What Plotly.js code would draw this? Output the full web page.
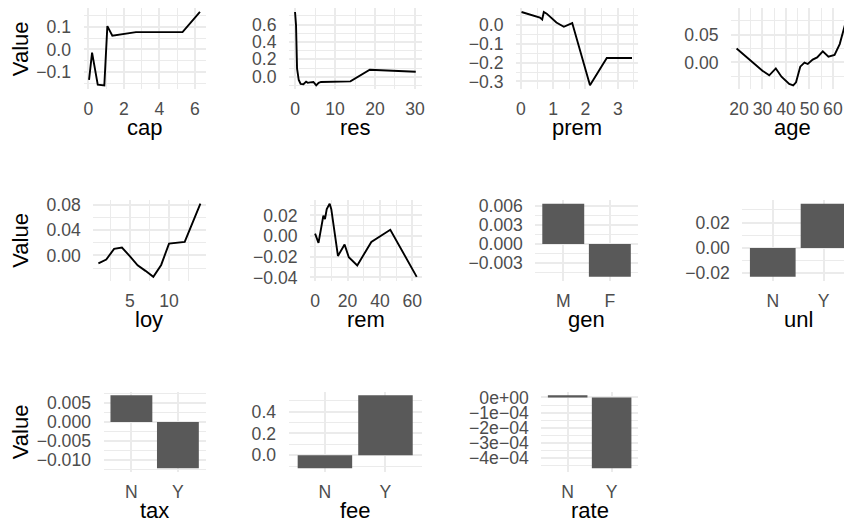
<!DOCTYPE html>
<html><head><meta charset="utf-8">
<script src="https://cdn.plot.ly/plotly-3.0.1.min.js"></script>
<style>
html,body{margin:0;padding:0;background:#fff;overflow:hidden}
#wrap{width:844px;height:526px;overflow:hidden;position:relative}
#chart{width:860px;height:526px}
</style></head>
<body><div id="wrap"><div id="chart"></div></div>
<script>
// ---- data ----
const capX = [0.04, 0.21, 0.53, 0.9, 1.07, 1.35, 2.68, 5.3, 6.28];
const capY = [-0.133, -0.014, -0.154, -0.157, 0.102, 0.06, 0.076, 0.076, 0.164];
const resX = [0, 0.25, 0.5, 0.93, 1.4, 2.1, 2.77, 3.2, 3.78, 4.6, 5.3, 5.9, 6.5, 13.85, 18.7, 30.2];
const resY = [0.744, 0.59, 0.096, -0.038, -0.083, -0.087, -0.057, -0.07, -0.065, -0.06, -0.099, -0.07, -0.06, -0.053, 0.08, 0.057];
const premX = [0.02, 0.59, 0.66, 0.71, 0.8, 0.93, 1.1, 1.33, 1.45, 1.59, 2.14, 2.66, 3.44];
const premY = [0.07, 0.04, 0.03, 0.07, 0.061, 0.04, 0.014, -0.009, 0.002, 0.011, -0.321, -0.175, -0.175];
const ageX = [19, 25, 30, 32.9, 35.7, 38.1, 41.4, 43.1, 44.3, 46.1, 47.9, 49.3, 51.4, 53.3, 55.7, 58.1, 60.7, 62.9, 65, 66.6];
const ageY = [0.025, 0.003, -0.015, -0.0235, -0.011, -0.026, -0.039, -0.0415, -0.036, -0.0078, -0.0005, -0.003, 0.005, 0.009, 0.0199, 0.0103, 0.0133, 0.033, 0.066, 0.091];
const loyX = [1, 2, 3, 4, 5, 6, 7, 8, 9, 10, 12, 14];
const loyY = [-0.0125, -0.0065, 0.0105, 0.0125, -0.001, -0.0156, -0.0245, -0.034, -0.0151, 0.0188, 0.0215, 0.0823];
const remX = [0, 2.1, 5.1, 6.1, 7.2, 9, 10, 11.6, 14.1, 18.2, 20.8, 26, 34.7, 46.4, 62.7];
const remY = [0.0023, -0.0066, 0.0196, 0.0165, 0.026, 0.0313, 0.026, 0.0085, -0.0192, -0.0082, -0.0205, -0.0284, -0.0057, 0.0061, -0.0394];
const genCats = ["M", "F"];
const genVals = [0.0064, -0.0052];
const ynCats = ["N", "Y"];
const unlVals = [-0.0228, 0.0349];
const taxVals = [0.0071, -0.0123];
const feeVals = [-0.12, 0.55];
const rateVals = [0.000015, -0.000468];
const rateTicks = [0, -0.0001, -0.0002, -0.0003, -0.0004];
const rateTickText = ["0e+00", "\u22121e\u221204", "\u22122e\u221204", "\u22123e\u221204", "\u22124e\u221204"];
const yTitle = "Value";

// ---- layout ----
const W = 860, H = 526;
const FONT = '"Liberation Sans", Arial, Helvetica, sans-serif';
const GRID = '#EBEBEB';
const R1 = [8.3, 89], R2 = [200, 280.5], R3 = [391.5, 472];

const panels = [
  {name:'cap',  kind:'line', x:capX,  y:capY,  bx:[83.5,205.5], by:R1, xd:2,  yd:0.1,   yf:'.1f', ylab:true},
  {name:'res',  kind:'line', x:resX,  y:resY,  bx:[289,421.8],  by:R1, xd:10, yd:0.2,   yf:'.1f'},
  {name:'prem', kind:'line', x:premX, y:premY, bx:[516,637.5],  by:R1, xd:1,  yd:0.1,   yf:'.1f'},
  {name:'age',  kind:'line', x:ageX,  y:ageY,  bx:[731,854],    by:R1, xd:10, yd:0.05,  yf:'.2f'},
  {name:'loy',  kind:'line', x:loyX,  y:loyY,  bx:[93.3,205.5], by:R2, xd:5,  yd:0.04,  yf:'.2f', ylab:true},
  {name:'rem',  kind:'line', x:remX,  y:remY,  bx:[310,421.8],  by:R2, xd:20, yd:0.02,  yf:'.2f'},
  {name:'gen',  kind:'bar',  x:genCats, y:genVals, bx:[535.3,637.8], by:R2, yd:0.003, yf:'.3f'},
  {name:'unl',  kind:'bar',  x:ynCats,  y:unlVals, bx:[742.3,854],   by:R2, yd:0.02,  yf:'.2f'},
  {name:'tax',  kind:'bar',  x:ynCats,  y:taxVals, bx:[103.5,205.8], by:R3, yd:0.005, yf:'.3f', ylab:true},
  {name:'fee',  kind:'bar',  x:ynCats,  y:feeVals, bx:[288.6,421.8], by:R3, yd:0.2,   yf:'.1f'},
  {name:'rate', kind:'bar',  x:ynCats,  y:rateVals, bx:[541.3,638],  by:R3, yd:0.0001, tv:rateTicks, tt:rateTickText}
];

function expand(lo, hi){ const d = hi - lo; return [lo - 0.05*d, hi + 0.05*d]; }
const tickFont = {family: FONT, size: 17.6, color: '#4D4D4D'};
const titleFont = {family: FONT, size: 22, color: '#000000'};

const data = [], annotations = [];
const layout = {
  width: W, height: H, margin: {l:0, r:0, t:0, b:0},
  paper_bgcolor: '#ffffff', plot_bgcolor: '#ffffff',
  showlegend: false, font: {family: FONT}
};

panels.forEach((p, i) => {
  const n = i + 1;
  const xs = n === 1 ? 'x' : 'x' + n, ys = n === 1 ? 'y' : 'y' + n;
  const xk = n === 1 ? 'xaxis' : 'xaxis' + n, yk = n === 1 ? 'yaxis' : 'yaxis' + n;
  const xdom = [p.bx[0]/W, p.bx[1]/W];
  const ydom = [1 - p.by[1]/H, 1 - p.by[0]/H];
  if (p.kind === 'line') {
    data.push({type:'scatter', mode:'lines', x:p.x, y:p.y, xaxis:xs, yaxis:ys,
      line:{color:'#000000', width:1.9}, hoverinfo:'skip'});
  } else {
    data.push({type:'bar', x:p.x, y:p.y, xaxis:xs, yaxis:ys, width:0.9,
      marker:{color:'#595959', line:{width:0}}, hoverinfo:'skip'});
  }
  const xa = {domain:xdom, anchor:ys, showline:false, zeroline:false,
    showgrid:true, gridcolor:GRID, gridwidth:2,
    ticks:'outside', ticklen:4, tickcolor:'rgba(0,0,0,0)', tickfont:tickFont, fixedrange:true};
  if (p.kind === 'line') {
    xa.type = 'linear';
    xa.range = expand(Math.min(...p.x), Math.max(...p.x));
    xa.tickmode = 'linear'; xa.tick0 = 0; xa.dtick = p.xd;
    xa.minor = {tickmode:'linear', tick0:0, dtick:p.xd/2, showgrid:true, gridcolor:GRID, gridwidth:1, ticks:''};
  } else {
    xa.type = 'category';
    xa.range = [-0.6, 1.6];
  }
  const ylo = p.kind === 'bar' ? Math.min(0, ...p.y) : Math.min(...p.y);
  const yhi = p.kind === 'bar' ? Math.max(0, ...p.y) : Math.max(...p.y);
  const ya = {domain:ydom, anchor:xs, type:'linear', range:expand(ylo, yhi),
    showline:false, zeroline:false, showgrid:true, gridcolor:GRID, gridwidth:2,
    ticks:'outside', ticklen:8, tickcolor:'rgba(0,0,0,0)', tickfont:tickFont, fixedrange:true,
    minor:{tickmode:'linear', tick0:0, dtick:p.yd/2, showgrid:true, gridcolor:GRID, gridwidth:1, ticks:''}};
  if (p.tv) { ya.tickmode = 'array'; ya.tickvals = p.tv; ya.ticktext = p.tt; }
  else { ya.tickmode = 'linear'; ya.tick0 = 0; ya.dtick = p.yd; ya.tickformat = p.yf; }
  layout[xk] = xa; layout[yk] = ya;

  // x title
  annotations.push({xref:'paper', yref:'paper', x:(p.bx[0]+p.bx[1])/2/W,
    y:1 - (p.by[1] + 46.5 - 7.7)/H, xanchor:'center', yanchor:'middle',
    text:p.name, showarrow:false, font:titleFont});
  if (p.ylab) {
    annotations.push({xref:'paper', yref:'paper', x:20.5/W, y:1 - (p.by[0]+p.by[1])/2/H,
      xanchor:'center', yanchor:'middle', textangle:-90, text:yTitle, showarrow:false, font:titleFont});
  }
});
layout.annotations = annotations;

Plotly.newPlot('chart', data, layout, {displayModeBar:false, staticPlot:true});
</script>
</body></html>
